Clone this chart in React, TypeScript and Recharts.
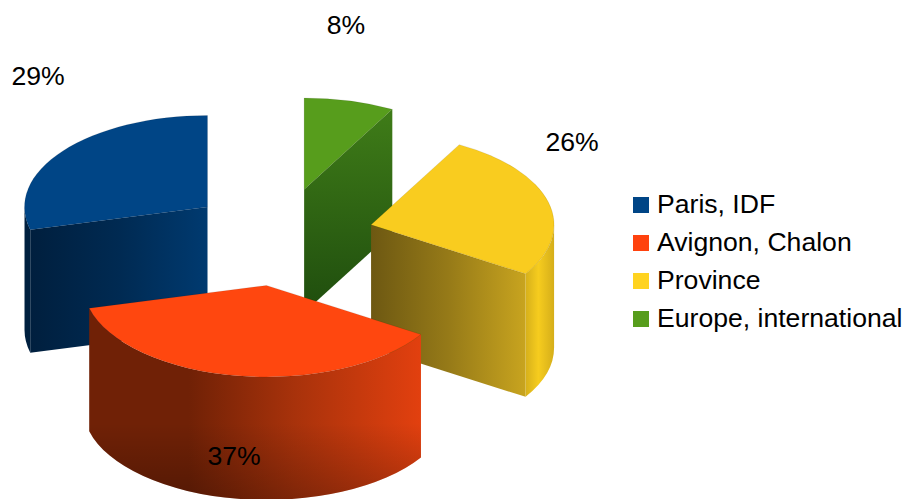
import { Legend, Pie, PieChart } from "recharts";

const categories = ["Paris, IDF", "Avignon, Chalon", "Province", "Europe, international"];
const shares = [29, 37, 26, 8];
const colors = ["#004586", "#ff420e", "#ffd320", "#579d1c"];
const topColors = ["#004586", "#ff470f", "#f9cc1f", "#579d1c"];

// painter's order, going clockwise so the front slice lands on top; legend keeps the original order
const paintOrder = [0, 3, 2, 1];

const RX = 183;
const SQUASH = 0.5;
const DEPTH = 123;
const EXPLODE_X = 93;
const EXPLODE_Y = 49;
const RAD = Math.PI / 180;

type Stop = [number, string];
const radialWalls: Stop[][] = [
  [[0, "#001f3e"], [0.5, "#002a52"], [1, "#003a70"]],
  [[0, "#6a1e05"], [1, "#e2400f"]],
  [[0, "#6d5812"], [0.5, "#967a18"], [1, "#c8a41f"]],
  [[0, "#3f7c18"], [1, "#1f4d0e"]],
];
const outerWalls: Stop[][] = [
  [[0, "#00203f"], [1, "#00203f"]],
  [[0, "#702106"], [0.3, "#702106"], [0.62, "#a8320b"], [1, "#e2400f"]],
  [[0, "#d6b01b"], [0.45, "#f6cc1e"], [1, "#d5ae1a"]],
  [[0, "#3f7c18"], [1, "#1f4d0e"]],
];

// label centres measured from the pie centre
const labelOffsets = [
  [-243, -161],
  [-47, 219],
  [291, -95],
  [65, -212],
];

function gradient(id: string, stops: Stop[], vertical: boolean) {
  return (
    <linearGradient id={id} x1="0" y1="0" x2={vertical ? "0" : "1"} y2={vertical ? "1" : "0"}>
      {stops.map(([o, c]) => (
        <stop key={o} offset={o} stopColor={c} />
      ))}
    </linearGradient>
  );
}

function Slice3D(props: any) {
  const { cx, cy, midAngle, name } = props;
  const startAngle = Math.min(props.startAngle, props.endAngle);
  const endAngle = Math.max(props.startAngle, props.endAngle);
  const i = categories.indexOf(name);
  const ry = RX * SQUASH;
  const ox = cx + Math.cos(midAngle * RAD) * EXPLODE_X;
  const oy = cy - Math.sin(midAngle * RAD) * EXPLODE_Y;
  const px = (a: number) => ox + RX * Math.cos(a * RAD);
  const py = (a: number) => oy - ry * Math.sin(a * RAD);
  const arc = (a: number, b: number, dy: number) => {
    const large = Math.abs(b - a) > 180 ? 1 : 0;
    const sweep = b > a ? 0 : 1;
    return `A${RX} ${ry} 0 ${large} ${sweep} ${px(b)} ${py(b) + dy}`;
  };

  const walls: any[] = [];
  const radial = (a: number) =>
    `M${ox} ${oy}L${px(a)} ${py(a)}L${px(a)} ${py(a) + DEPTH}L${ox} ${oy + DEPTH}Z`;
  if (Math.sin((startAngle - 90) * RAD) < -0.01) walls.push(<path key="s" d={radial(startAngle)} fill={`url(#radial-${i})`} />);
  if (Math.sin((endAngle + 90) * RAD) < -0.01) walls.push(<path key="e" d={radial(endAngle)} fill={`url(#radial-${i})`} />);
  [-180, 180].forEach((k) => {
    const a = Math.max(startAngle, k);
    const b = Math.min(endAngle, k + 180);
    if (b > a) {
      const d = `M${px(a)} ${py(a)}${arc(a, b, 0)}L${px(b)} ${py(b) + DEPTH}${arc(b, a, DEPTH)}Z`;
      walls.push(<path key={k} d={d} fill={`url(#outer-${i})`} />);
      if (i === 1) walls.push(<path key={k + "s"} d={d} fill="url(#floor-shade)" />);
    }
  });

  return (
    <g>
      <defs>
        {gradient(`radial-${i}`, radialWalls[i], i === 3)}
        {gradient(`outer-${i}`, outerWalls[i], i === 3)}
        <linearGradient id="floor-shade" x1="0" y1="0" x2="0" y2="1">
          <stop offset={0.6} stopColor="#000" stopOpacity={0} />
          <stop offset={1} stopColor="#000" stopOpacity={0.25} />
        </linearGradient>
      </defs>
      {walls}
      <path
        d={`M${ox} ${oy}L${px(startAngle)} ${py(startAngle)}${arc(startAngle, endAngle, 0)}Z`}
        fill={topColors[i]}
        stroke="#000"
        strokeOpacity={0.15}
        strokeWidth={0.6}
      />
    </g>
  );
}

function PercentLabel(props: any) {
  const { cx, cy, name, value } = props;
  const [dx, dy] = labelOffsets[categories.indexOf(name)];
  return (
    <text x={cx + dx} y={cy + dy} textAnchor="middle" dominantBaseline="central" fontSize={26.6} fill="#000">
      {value}%
    </text>
  );
}

const total = shares.reduce((a, b) => a + b, 0);
const firstAngle = 90 + (shares[0] / total) * 360;
const data = paintOrder.map((i) => ({ name: categories[i], value: shares[i], fill: colors[i] }));

export default function App() {
  return (
    <div style={{ position: "absolute", left: 0, top: 0, width: 908, height: 499, fontFamily: "'Liberation Sans', Arial, sans-serif" }}>
      <PieChart width={908} height={499} margin={{ top: 0, right: 0, bottom: 0, left: 0 }}>
        <Pie
          data={data}
          dataKey="value"
          nameKey="name"
          cx={281}
          cy={237}
          outerRadius={RX}
          startAngle={firstAngle}
          endAngle={firstAngle - 360}
          stroke="none"
          shape={Slice3D}
          label={PercentLabel}
          labelLine={false}
          isAnimationActive={false}
        />
        <Legend
          layout="vertical"
          align="right"
          verticalAlign="top"
          iconType="square"
          iconSize={16}
          itemSorter={(item: any) => categories.indexOf(item.value)}
          formatter={(v: string) => (
            <span style={{ color: "#000", fontSize: 26.6, lineHeight: 1, marginLeft: 4, position: "relative", top: 4, whiteSpace: "nowrap" }}>{v}</span>
          )}
          wrapperStyle={{ left: 633, top: 185, width: 275, right: "auto", lineHeight: "38px", whiteSpace: "nowrap" }}
        />
      </PieChart>
    </div>
  );
}
